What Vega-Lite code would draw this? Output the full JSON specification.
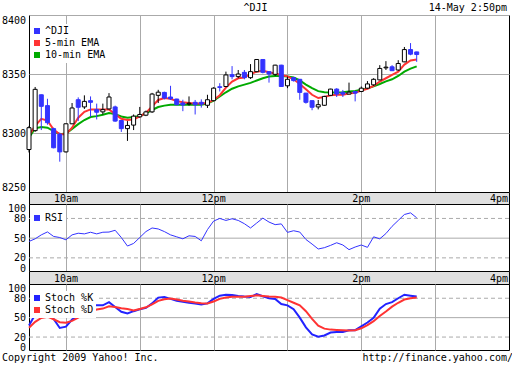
{
 "$schema": "https://vega.github.io/schema/vega-lite/v6.json",
 "background": "white",
 "padding": 0,
 "bounds": "flush",
 "spacing": 0,
 "resolve": {"scale": {"color": "independent"}},
 "config": {
  "font": "DejaVu Sans Mono",
  "axis": {"labelFont": "DejaVu Sans Mono", "labelFontSize": 10, "labelColor": "black", "tickColor": "black", "gridColor": "#aaaaaa"},
  "legend": {"labelFont": "DejaVu Sans Mono", "labelFontSize": 10, "labelColor": "black"},
  "text": {"font": "DejaVu Sans Mono", "fontSize": 10, "color": "black"}
 },
 "datasets": {
  "bars": [
   {"t":"2009-05-14T09:30","open":8286,"high":8306,"low":8283.5,"close":8304.5,"ema5":8298,"ema10":8296,"rsi":45,"k":38,"d":34.5},
   {"t":"2009-05-14T09:35","open":8302,"high":8339,"low":8301,"close":8337,"ema5":8306,"ema10":8304,"rsi":49,"k":55,"d":43.5},
   {"t":"2009-05-14T09:40","open":8332.4,"high":8332.6,"low":8302.5,"close":8322.6,"ema5":8312,"ema10":8305,"rsi":55,"k":60,"d":49.5},
   {"t":"2009-05-14T09:45","open":8323.2,"high":8329,"low":8307,"close":8308.7,"ema5":8310.5,"ema10":8304.5,"rsi":59.5,"k":55,"d":51.5},
   {"t":"2009-05-14T09:50","open":8303.7,"high":8304.5,"low":8287,"close":8287.5,"ema5":8303,"ema10":8301.5,"rsi":52.6,"k":48,"d":47.5},
   {"t":"2009-05-14T09:55","open":8299,"high":8300.3,"low":8275.7,"close":8284,"ema5":8299,"ema10":8299,"rsi":51,"k":34,"d":43},
   {"t":"2009-05-14T10:00","open":8284,"high":8308,"low":8283.5,"close":8307.8,"ema5":8299,"ema10":8299.5,"rsi":47.5,"k":36,"d":42},
   {"t":"2009-05-14T10:05","open":8307.8,"high":8325.4,"low":8307.5,"close":8321.2,"ema5":8304.5,"ema10":8303.5,"rsi":55,"k":47,"d":45},
   {"t":"2009-05-14T10:10","open":8328.2,"high":8330.2,"low":8310.1,"close":8321.8,"ema5":8313,"ema10":8307.5,"rsi":57.5,"k":53.7,"d":50},
   {"t":"2009-05-14T10:15","open":8322.1,"high":8331.9,"low":8320.4,"close":8326.8,"ema5":8318,"ema10":8311,"rsi":56.5,"k":60,"d":56},
   {"t":"2009-05-14T10:20","open":8327.4,"high":8331,"low":8313.7,"close":8326,"ema5":8320,"ema10":8313.5,"rsi":59,"k":69,"d":60},
   {"t":"2009-05-14T10:25","open":8319.8,"high":8324.9,"low":8311.5,"close":8317.6,"ema5":8320,"ema10":8314.3,"rsi":56.5,"k":69,"d":62.5},
   {"t":"2009-05-14T10:30","open":8317.9,"high":8324.9,"low":8315.7,"close":8319.8,"ema5":8320,"ema10":8315.5,"rsi":59,"k":69,"d":64},
   {"t":"2009-05-14T10:35","open":8320.4,"high":8333.8,"low":8320,"close":8330.5,"ema5":8320,"ema10":8317,"rsi":59.3,"k":74,"d":67.5},
   {"t":"2009-05-14T10:40","open":8322.1,"high":8323.2,"low":8309.5,"close":8310.1,"ema5":8316,"ema10":8316,"rsi":62,"k":66.5,"d":66.5},
   {"t":"2009-05-14T10:45","open":8310.6,"high":8310.8,"low":8300.9,"close":8303.7,"ema5":8312,"ema10":8314,"rsi":51,"k":59,"d":64.5},
   {"t":"2009-05-14T10:50","open":8303.7,"high":8310.1,"low":8293.3,"close":8306.4,"ema5":8311,"ema10":8313,"rsi":38,"k":56.5,"d":63.3},
   {"t":"2009-05-14T10:55","open":8306.7,"high":8315.7,"low":8302.5,"close":8314.3,"ema5":8311.5,"ema10":8313.5,"rsi":42,"k":60,"d":61},
   {"t":"2009-05-14T11:00","open":8313.7,"high":8322.1,"low":8313,"close":8315.7,"ema5":8314,"ema10":8314.5,"rsi":51,"k":63,"d":63.5},
   {"t":"2009-05-14T11:05","open":8315.1,"high":8319,"low":8314.3,"close":8317.9,"ema5":8317,"ema10":8316.5,"rsi":60,"k":65,"d":66},
   {"t":"2009-05-14T11:10","open":8317.9,"high":8334,"low":8317,"close":8333,"ema5":8322.6,"ema10":8319.5,"rsi":65.5,"k":72,"d":70.5},
   {"t":"2009-05-14T11:15","open":8331.9,"high":8336.6,"low":8325.4,"close":8334.6,"ema5":8328,"ema10":8322,"rsi":64,"k":81,"d":76},
   {"t":"2009-05-14T11:20","open":8334.4,"high":8335,"low":8328.5,"close":8329.6,"ema5":8329.6,"ema10":8323.2,"rsi":60,"k":82,"d":78.5},
   {"t":"2009-05-14T11:25","open":8330.5,"high":8340,"low":8328,"close":8329,"ema5":8329,"ema10":8324,"rsi":55,"k":79,"d":79.5},
   {"t":"2009-05-14T11:30","open":8328.8,"high":8329,"low":8323.5,"close":8324,"ema5":8327,"ema10":8324,"rsi":52,"k":76,"d":78},
   {"t":"2009-05-14T11:35","open":8325.4,"high":8328.2,"low":8318.5,"close":8323.8,"ema5":8326,"ema10":8324,"rsi":49,"k":74.5,"d":76},
   {"t":"2009-05-14T11:40","open":8324.6,"high":8331,"low":8323.2,"close":8325.2,"ema5":8325.5,"ema10":8324,"rsi":53.6,"k":73,"d":75},
   {"t":"2009-05-14T11:45","open":8326,"high":8328,"low":8315.7,"close":8324,"ema5":8325,"ema10":8324,"rsi":52.6,"k":72,"d":73.5},
   {"t":"2009-05-14T11:50","open":8326,"high":8328.5,"low":8321.5,"close":8324.5,"ema5":8325,"ema10":8324,"rsi":46,"k":70.5,"d":72.3},
   {"t":"2009-05-14T11:55","open":8323.5,"high":8332.4,"low":8321.2,"close":8328.2,"ema5":8325.5,"ema10":8325,"rsi":63,"k":72,"d":72},
   {"t":"2009-05-14T12:00","open":8327.4,"high":8338.8,"low":8327,"close":8338,"ema5":8328,"ema10":8327.5,"rsi":76,"k":79,"d":75},
   {"t":"2009-05-14T12:05","open":8339.2,"high":8342.2,"low":8335.2,"close":8338.6,"ema5":8332,"ema10":8331,"rsi":80,"k":84,"d":79},
   {"t":"2009-05-14T12:10","open":8339.4,"high":8352,"low":8338.8,"close":8349.2,"ema5":8338.5,"ema10":8334.5,"rsi":77,"k":85.4,"d":81},
   {"t":"2009-05-14T12:15","open":8349.4,"high":8356.7,"low":8345.5,"close":8347.8,"ema5":8343.6,"ema10":8337.5,"rsi":79.5,"k":85,"d":82.3},
   {"t":"2009-05-14T12:20","open":8347.8,"high":8353.4,"low":8346.4,"close":8350,"ema5":8346.4,"ema10":8339.5,"rsi":77,"k":83.5,"d":82.3},
   {"t":"2009-05-14T12:25","open":8351.4,"high":8353.4,"low":8345.5,"close":8346.9,"ema5":8347,"ema10":8341,"rsi":72,"k":82.5,"d":82.3},
   {"t":"2009-05-14T12:30","open":8346.9,"high":8358.4,"low":8345.8,"close":8352,"ema5":8350,"ema10":8342.5,"rsi":65.5,"k":81.8,"d":83.3},
   {"t":"2009-05-14T12:35","open":8352,"high":8362.6,"low":8351.5,"close":8362.3,"ema5":8352,"ema10":8344.5,"rsi":73,"k":86.5,"d":84.5},
   {"t":"2009-05-14T12:40","open":8362.3,"high":8362.5,"low":8350.5,"close":8351.4,"ema5":8352.8,"ema10":8346.4,"rsi":80.5,"k":83,"d":83.5},
   {"t":"2009-05-14T12:45","open":8352,"high":8352.3,"low":8342.7,"close":8350,"ema5":8351.5,"ema10":8347.8,"rsi":74.5,"k":80,"d":82.5},
   {"t":"2009-05-14T12:50","open":8349.7,"high":8357.8,"low":8348.3,"close":8357.5,"ema5":8350.5,"ema10":8348.3,"rsi":70.6,"k":79,"d":82.3},
   {"t":"2009-05-14T12:55","open":8357.5,"high":8357.8,"low":8339,"close":8339.4,"ema5":8349.2,"ema10":8348.3,"rsi":71.7,"k":71,"d":81},
   {"t":"2009-05-14T13:00","open":8340,"high":8347.8,"low":8338,"close":8345.5,"ema5":8348,"ema10":8347.8,"rsi":58.8,"k":69,"d":77},
   {"t":"2009-05-14T13:05","open":8346.9,"high":8347.2,"low":8343.6,"close":8344.4,"ema5":8345.5,"ema10":8347,"rsi":61.3,"k":63,"d":73},
   {"t":"2009-05-14T13:10","open":8345.5,"high":8345.8,"low":8328.2,"close":8334.4,"ema5":8341.5,"ema10":8344.5,"rsi":59.3,"k":50,"d":69},
   {"t":"2009-05-14T13:15","open":8333.8,"high":8334,"low":8324.9,"close":8326,"ema5":8337,"ema10":8341,"rsi":48,"k":35,"d":60},
   {"t":"2009-05-14T13:20","open":8327.4,"high":8327.6,"low":8319.3,"close":8321.8,"ema5":8332.4,"ema10":8338,"rsi":41,"k":24,"d":48},
   {"t":"2009-05-14T13:25","open":8322.1,"high":8328,"low":8320,"close":8324,"ema5":8329.6,"ema10":8335.5,"rsi":33.5,"k":20.5,"d":37.5},
   {"t":"2009-05-14T13:30","open":8323.5,"high":8331.5,"low":8323,"close":8331,"ema5":8330.5,"ema10":8334.5,"rsi":35.5,"k":22.5,"d":33},
   {"t":"2009-05-14T13:35","open":8331.9,"high":8337.5,"low":8331.5,"close":8337.2,"ema5":8332,"ema10":8334.4,"rsi":39,"k":27,"d":31.5},
   {"t":"2009-05-14T13:40","open":8337.2,"high":8338,"low":8330.5,"close":8333,"ema5":8332.4,"ema10":8334.4,"rsi":43,"k":28,"d":31},
   {"t":"2009-05-14T13:45","open":8334.5,"high":8336.5,"low":8330.5,"close":8333,"ema5":8332.4,"ema10":8334.6,"rsi":39.6,"k":28,"d":30.5},
   {"t":"2009-05-14T13:50","open":8333,"high":8342.7,"low":8332.8,"close":8334.6,"ema5":8333.5,"ema10":8335.2,"rsi":32.5,"k":30.5,"d":30},
   {"t":"2009-05-14T13:55","open":8335.2,"high":8335.4,"low":8326.8,"close":8333.8,"ema5":8334,"ema10":8335.7,"rsi":36.5,"k":30.6,"d":30.5},
   {"t":"2009-05-14T14:00","open":8335.2,"high":8339.4,"low":8334.6,"close":8338,"ema5":8336,"ema10":8336.6,"rsi":39.6,"k":36.5,"d":33.5},
   {"t":"2009-05-14T14:05","open":8338,"high":8344,"low":8337.5,"close":8341.6,"ema5":8337.5,"ema10":8337.8,"rsi":36,"k":42.5,"d":38.5},
   {"t":"2009-05-14T14:10","open":8340.8,"high":8346.4,"low":8340,"close":8345.5,"ema5":8340,"ema10":8339.5,"rsi":52,"k":49.6,"d":44.5},
   {"t":"2009-05-14T14:15","open":8345,"high":8357.5,"low":8344.8,"close":8354.7,"ema5":8343.6,"ema10":8341.5,"rsi":49,"k":64,"d":52.5},
   {"t":"2009-05-14T14:20","open":8355.2,"high":8360.9,"low":8353.4,"close":8355.8,"ema5":8346.4,"ema10":8343.8,"rsi":57,"k":71,"d":59.5},
   {"t":"2009-05-14T14:25","open":8356.1,"high":8357.5,"low":8352.5,"close":8352.8,"ema5":8349.2,"ema10":8345.5,"rsi":68,"k":74,"d":67},
   {"t":"2009-05-14T14:30","open":8353.4,"high":8361.7,"low":8352.8,"close":8358.9,"ema5":8352,"ema10":8348.3,"rsi":77,"k":80,"d":73},
   {"t":"2009-05-14T14:35","open":8360.3,"high":8372.9,"low":8360,"close":8370.7,"ema5":8358,"ema10":8352,"rsi":86,"k":85.4,"d":78},
   {"t":"2009-05-14T14:40","open":8370.7,"high":8376.2,"low":8365.9,"close":8366.8,"ema5":8361.5,"ema10":8354.5,"rsi":88.5,"k":84,"d":80},
   {"t":"2009-05-14T14:45","open":8368.7,"high":8368.9,"low":8360.3,"close":8366.5,"ema5":8362.3,"ema10":8356.5,"rsi":81,"k":82.7,"d":81.3}
  ]
 },
 "vconcat": [
  {
   "width": 480, "height": 15, "view": {"stroke": null},
   "layer": [
    {"data": {"values": [{"t": "2009-05-14T12:34", "label": "^DJI"}]},
     "mark": {"type": "text", "align": "center", "baseline": "middle"},
     "encoding": {"x": {"field": "t", "type": "temporal", "scale": {"domain": [{"year": 2009, "month": 5, "date": 14, "hours": 9, "minutes": 30}, {"year": 2009, "month": 5, "date": 14, "hours": 16}], "nice": false}, "axis": null}, "text": {"field": "label"}}},
    {"data": {"values": [{"t": "2009-05-14T16:00", "label": "14-May 2:50pm"}]},
     "mark": {"type": "text", "align": "right", "baseline": "middle", "dx": -2},
     "encoding": {"x": {"field": "t", "type": "temporal", "scale": {"domain": [{"year": 2009, "month": 5, "date": 14, "hours": 9, "minutes": 30}, {"year": 2009, "month": 5, "date": 14, "hours": 16}], "nice": false}, "axis": null}, "text": {"field": "label"}}}
   ]
  },
  {
   "width": 480, "height": 177, "view": {"stroke": "black", "strokeWidth": 1},
   "data": {"name": "bars"},
   "layer": [
    {"mark": {"type": "line", "strokeWidth": 2},
     "encoding": {
      "x": {"field": "t", "type": "temporal", "scale": {"domain": [{"year": 2009, "month": 5, "date": 14, "hours": 9, "minutes": 30}, {"year": 2009, "month": 5, "date": 14, "hours": 16}], "nice": false, "padding": 0},
            "axis": {"title": null, "values": [{"year": 2009, "month": 5, "date": 14, "hours": 10}, {"year": 2009, "month": 5, "date": 14, "hours": 11}, {"year": 2009, "month": 5, "date": 14, "hours": 12}, {"year": 2009, "month": 5, "date": 14, "hours": 13}, {"year": 2009, "month": 5, "date": 14, "hours": 14}, {"year": 2009, "month": 5, "date": 14, "hours": 15}], "grid": true, "ticks": false, "labels": false, "domain": false}},
      "y": {"field": "ema10", "type": "quantitative", "scale": {"domain": [8250, 8400], "nice": false, "zero": false},
            "axis": {"title": null, "values": [8250, 8300, 8350, 8400], "format": "d", "grid": true, "ticks": false, "labelPadding": 3.5, "labelFlush": true, "labelOverlap": false, "domain": false}},
      "color": {"datum": "10-min EMA", "type": "nominal",
                "scale": {"domain": ["^DJI", "5-min EMA", "10-min EMA"], "range": ["#3333ff", "#ff3333", "#00aa00"]},
                "legend": {"title": null, "orient": "none", "direction": "vertical", "legendX": 1, "legendY": 9, "fillColor": "white", "padding": 2, "symbolType": "M-1,-1H1V1H-1Z M0,-1V1", "symbolSize": 16, "symbolStrokeWidth": 2, "labelOffset": 3, "rowPadding": 0}}}},
    {"mark": {"type": "line", "strokeWidth": 2},
     "encoding": {
      "x": {"field": "t", "type": "temporal"},
      "y": {"field": "ema5", "type": "quantitative"},
      "color": {"datum": "5-min EMA", "type": "nominal"}}},
    {"mark": {"type": "rule", "strokeWidth": 1},
     "encoding": {
      "x": {"field": "t", "type": "temporal"},
      "y": {"field": "low", "type": "quantitative"},
      "y2": {"field": "high"},
      "stroke": {"condition": {"test": "datum.close >= datum.open", "value": "black"}, "value": "#3333ff"}}},
    {"mark": {"type": "bar", "width": 4, "strokeWidth": 1},
     "encoding": {
      "x": {"field": "t", "type": "temporal"},
      "y": {"field": "open", "type": "quantitative"},
      "y2": {"field": "close"},
      "fill": {"condition": {"test": "datum.close >= datum.open", "value": "white"}, "value": "#3333ff"},
      "stroke": {"condition": {"test": "datum.close >= datum.open", "value": "black"}, "value": "#3333ff"}}}
   ]
  },
  {
   "width": 480, "height": 12, "view": {"fill": "#e0e0e0", "stroke": "black"},
   "layer": [
    {"data": {"values": [{"t": "2009-05-14T10:00", "label": "10am"}, {"t": "2009-05-14T12:00", "label": "12pm"}, {"t": "2009-05-14T14:00", "label": "2pm"}]},
     "mark": {"type": "text", "align": "center", "baseline": "middle", "dy": 1},
     "encoding": {"x": {"field": "t", "type": "temporal", "scale": {"domain": [{"year": 2009, "month": 5, "date": 14, "hours": 9, "minutes": 30}, {"year": 2009, "month": 5, "date": 14, "hours": 16}], "nice": false}, "axis": null}, "text": {"field": "label"}}},
    {"data": {"values": [{"t": "2009-05-14T16:00", "label": "4pm"}]},
     "mark": {"type": "text", "align": "right", "baseline": "middle", "dx": -1, "dy": 1},
     "encoding": {"x": {"field": "t", "type": "temporal", "scale": {"domain": [{"year": 2009, "month": 5, "date": 14, "hours": 9, "minutes": 30}, {"year": 2009, "month": 5, "date": 14, "hours": 16}], "nice": false}, "axis": null}, "text": {"field": "label"}}}
   ]
  },
  {
   "width": 480, "height": 67, "view": {"stroke": "black", "strokeWidth": 1},
   "layer": [
    {"data": {"values": [{"level": 20}, {"level": 80}]},
     "mark": {"type": "rule", "color": "#aaaaaa", "strokeDash": [4, 3]},
     "encoding": {"y": {"field": "level", "type": "quantitative", "scale": {"domain": [0, 102], "nice": false, "zero": false},
            "axis": {"title": null, "values": [0, 20, 50, 80, 100], "grid": false, "ticks": false, "labelPadding": 3.5, "labelFlush": 3, "labelFlushOffset": 2, "labelOverlap": false, "domain": false}}}},
    {"data": {"values": [{"level": 50}]},
     "mark": {"type": "rule", "color": "#aaaaaa"},
     "encoding": {"y": {"field": "level", "type": "quantitative",
            "axis": {"title": null, "values": [0, 20, 50, 80, 100], "grid": false, "ticks": false, "labelPadding": 3.5, "labelFlush": 3, "labelFlushOffset": 2, "labelOverlap": false, "domain": false}}}},
    {"data": {"name": "bars"}, "mark": {"type": "line", "strokeWidth": 1},
     "encoding": {
      "x": {"field": "t", "type": "temporal", "scale": {"domain": [{"year": 2009, "month": 5, "date": 14, "hours": 9, "minutes": 30}, {"year": 2009, "month": 5, "date": 14, "hours": 16}], "nice": false},
            "axis": {"title": null, "values": [{"year": 2009, "month": 5, "date": 14, "hours": 10}, {"year": 2009, "month": 5, "date": 14, "hours": 11}, {"year": 2009, "month": 5, "date": 14, "hours": 12}, {"year": 2009, "month": 5, "date": 14, "hours": 13}, {"year": 2009, "month": 5, "date": 14, "hours": 14}, {"year": 2009, "month": 5, "date": 14, "hours": 15}], "grid": true, "ticks": false, "labels": false, "domain": false}},
      "y": {"field": "rsi", "type": "quantitative",
            "axis": {"title": null, "values": [0, 20, 50, 80, 100], "grid": false, "ticks": false, "labelPadding": 3.5, "labelFlush": 3, "labelFlushOffset": 2, "labelOverlap": false, "domain": false}},
      "color": {"datum": "RSI", "type": "nominal",
                "scale": {"domain": ["RSI"], "range": ["#3333ff"]},
                "legend": {"title": null, "orient": "none", "direction": "vertical", "legendX": 1, "legendY": 7, "fillColor": "white", "padding": 2, "symbolType": "M-1,-1H1V1H-1Z M0,-1V1", "symbolSize": 16, "symbolStrokeWidth": 2, "labelOffset": 3, "rowPadding": 0}}}}
   ]
  },
  {
   "width": 480, "height": 13, "view": {"fill": "#e0e0e0", "stroke": "black"},
   "layer": [
    {"data": {"values": [{"t": "2009-05-14T10:00", "label": "10am"}, {"t": "2009-05-14T12:00", "label": "12pm"}, {"t": "2009-05-14T14:00", "label": "2pm"}]},
     "mark": {"type": "text", "align": "center", "baseline": "middle", "dy": 1},
     "encoding": {"x": {"field": "t", "type": "temporal", "scale": {"domain": [{"year": 2009, "month": 5, "date": 14, "hours": 9, "minutes": 30}, {"year": 2009, "month": 5, "date": 14, "hours": 16}], "nice": false}, "axis": null}, "text": {"field": "label"}}},
    {"data": {"values": [{"t": "2009-05-14T16:00", "label": "4pm"}]},
     "mark": {"type": "text", "align": "right", "baseline": "middle", "dx": -1, "dy": 1},
     "encoding": {"x": {"field": "t", "type": "temporal", "scale": {"domain": [{"year": 2009, "month": 5, "date": 14, "hours": 9, "minutes": 30}, {"year": 2009, "month": 5, "date": 14, "hours": 16}], "nice": false}, "axis": null}, "text": {"field": "label"}}}
   ]
  },
  {
   "width": 480, "height": 66, "view": {"stroke": "black", "strokeWidth": 1},
   "layer": [
    {"data": {"values": [{"level": 20}, {"level": 80}]},
     "mark": {"type": "rule", "color": "#aaaaaa", "strokeDash": [4, 3]},
     "encoding": {"y": {"field": "level", "type": "quantitative", "scale": {"domain": [0, 102], "nice": false, "zero": false},
            "axis": {"title": null, "values": [0, 20, 50, 80, 100], "grid": false, "ticks": false, "labelPadding": 3.5, "labelFlush": 3, "labelFlushOffset": 2, "labelOverlap": false, "domain": false}}}},
    {"data": {"values": [{"level": 50}]},
     "mark": {"type": "rule", "color": "#aaaaaa"},
     "encoding": {"y": {"field": "level", "type": "quantitative",
            "axis": {"title": null, "values": [0, 20, 50, 80, 100], "grid": false, "ticks": false, "labelPadding": 3.5, "labelFlush": 3, "labelFlushOffset": 2, "labelOverlap": false, "domain": false}}}},
    {"data": {"name": "bars"}, "mark": {"type": "line", "strokeWidth": 2},
     "encoding": {
      "x": {"field": "t", "type": "temporal", "scale": {"domain": [{"year": 2009, "month": 5, "date": 14, "hours": 9, "minutes": 30}, {"year": 2009, "month": 5, "date": 14, "hours": 16}], "nice": false},
            "axis": {"title": null, "values": [{"year": 2009, "month": 5, "date": 14, "hours": 10}, {"year": 2009, "month": 5, "date": 14, "hours": 11}, {"year": 2009, "month": 5, "date": 14, "hours": 12}, {"year": 2009, "month": 5, "date": 14, "hours": 13}, {"year": 2009, "month": 5, "date": 14, "hours": 14}, {"year": 2009, "month": 5, "date": 14, "hours": 15}], "grid": true, "ticks": false, "labels": false, "domain": false}},
      "y": {"field": "k", "type": "quantitative",
            "axis": {"title": null, "values": [0, 20, 50, 80, 100], "grid": false, "ticks": false, "labelPadding": 3.5, "labelFlush": 3, "labelFlushOffset": 2, "labelOverlap": false, "domain": false}},
      "color": {"datum": "Stoch %K", "type": "nominal",
                "scale": {"domain": ["Stoch %K", "Stoch %D"], "range": ["#2222ff", "#ff3333"]},
                "legend": {"title": null, "orient": "none", "direction": "vertical", "legendX": 1, "legendY": 7, "fillColor": "white", "padding": 2, "symbolType": "M-1,-1H1V1H-1Z M0,-1V1", "symbolSize": 16, "symbolStrokeWidth": 2, "labelOffset": 3, "rowPadding": 0}}}},
    {"data": {"name": "bars"}, "mark": {"type": "line", "strokeWidth": 2},
     "encoding": {
      "x": {"field": "t", "type": "temporal"},
      "y": {"field": "d", "type": "quantitative",
            "axis": {"title": null, "values": [0, 20, 50, 80, 100], "grid": false, "ticks": false, "labelPadding": 3.5, "labelFlush": 3, "labelFlushOffset": 2, "labelOverlap": false, "domain": false}},
      "color": {"datum": "Stoch %D", "type": "nominal"}}}
   ]
  },
  {
   "width": 480, "height": 15, "view": {"stroke": null},
   "layer": [
    {"data": {"values": [{"t": "2009-05-14T09:30", "label": "Copyright 2009 Yahoo! Inc."}]},
     "mark": {"type": "text", "align": "left", "baseline": "middle", "dx": -27},
     "encoding": {"x": {"field": "t", "type": "temporal", "scale": {"domain": [{"year": 2009, "month": 5, "date": 14, "hours": 9, "minutes": 30}, {"year": 2009, "month": 5, "date": 14, "hours": 16}], "nice": false}, "axis": null}, "text": {"field": "label"}}},
    {"data": {"values": [{"t": "2009-05-14T16:00", "label": "http://finance.yahoo.com/"}]},
     "mark": {"type": "text", "align": "right", "baseline": "middle", "dx": 4},
     "encoding": {"x": {"field": "t", "type": "temporal", "scale": {"domain": [{"year": 2009, "month": 5, "date": 14, "hours": 9, "minutes": 30}, {"year": 2009, "month": 5, "date": 14, "hours": 16}], "nice": false}, "axis": null}, "text": {"field": "label"}}}
   ]
  }
 ]
}
